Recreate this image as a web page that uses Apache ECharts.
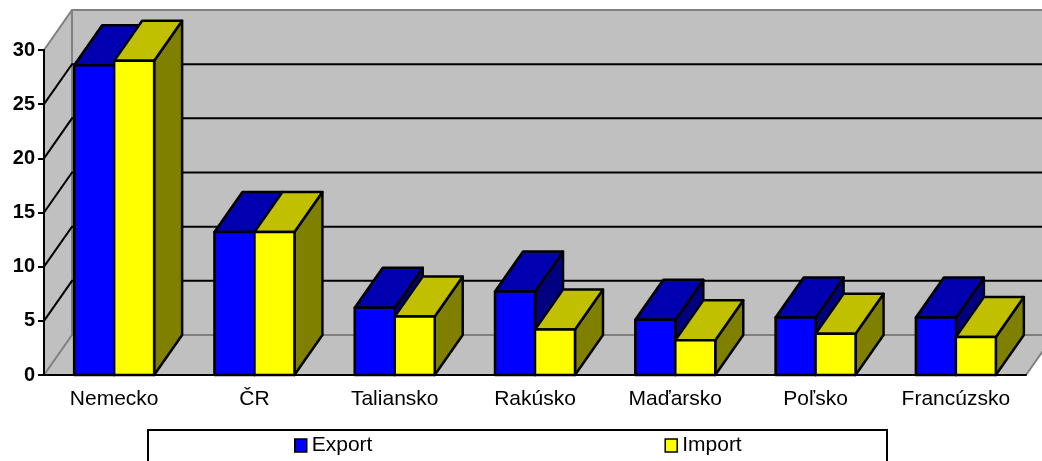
<!DOCTYPE html>
<html lang="sk">
<head>
    <meta charset="UTF-8">
    <title>Export a import</title>
    <style>
        body { margin: 0; background: #fff; }
        #a { width: 1042px; height: 461px; }
    </style>
</head>
<body>
<div id="a"></div>
<script src="https://cdn.jsdelivr.net/npm/echarts@6/dist/echarts.min.js"></script>
<script>
    // data
    var krajiny = ['Nemecko', 'ČR', 'Taliansko', 'Rakúsko', 'Maďarsko', 'Poľsko', 'Francúzsko'];
    var exportData = [28.6, 13.2, 6.2, 7.7, 5.1, 5.3, 5.3];
    var importData = [29.0, 13.2, 5.4, 4.2, 3.2, 3.8, 3.5];
    var yTicks = [0, 5, 10, 15, 20, 25, 30];

    var DX = 28, DY = -40; // 3D depth offset
    var font = 'Arial, "Liberation Sans", sans-serif';
    var init1 = echarts.init(document.getElementById('a'));

    // gray walls, floor and the back gridlines
    function walls(params, api) {
        var cs = params.coordSys;
        var x0 = cs.x, x1 = cs.x + cs.width;
        var yB = api.coord([0, yTicks[0]])[1];
        var yT = api.coord([0, yTicks[yTicks.length - 1]])[1];
        var gray = {fill: '#c0c0c0'};
        var edge = {stroke: '#808080', lineWidth: 2, fill: null};
        var children = [
            {type: 'polygon', shape: {points: [[x0 + DX, yT + DY], [x1 + DX, yT + DY], [x1 + DX, yB + DY], [x0 + DX, yB + DY]]}, style: gray},
            {type: 'polygon', shape: {points: [[x0, yT], [x0 + DX, yT + DY], [x0 + DX, yB + DY], [x0, yB]]}, style: gray},
            {type: 'polygon', shape: {points: [[x0, yB], [x0 + DX, yB + DY], [x1 + DX, yB + DY], [x1, yB]]}, style: gray},
            {type: 'line', shape: {x1: x0 + DX, y1: yT + DY, x2: x0 + DX, y2: yB + DY}, style: edge},
            {type: 'line', shape: {x1: x1, y1: yB, x2: x1 + DX, y2: yB + DY}, style: edge}
        ];
        for (var i = 0; i < yTicks.length; i++) {
            var y = api.coord([0, yTicks[i]])[1];
            var isEdge = (i == 0 || i == yTicks.length - 1);
            children.push({
                type: 'polyline',
                shape: {points: [[x0, y], [x0 + DX, y + DY], [x1 + DX, y + DY]]},
                style: {stroke: isEdge ? '#808080' : '#000', lineWidth: 2, fill: null}
            });
        }
        return {type: 'group', children: children};
    }

    // one 3D bar: front, top and right side
    function bar(side, cFront, cTop, cSide) {
        return function (params, api) {
            var idx = api.value(0);
            var base = api.coord([idx, 0]);
            var head = api.coord([idx, api.value(1)]);
            var w = api.size([1, 0])[0] * 0.285;
            var xL = side < 0 ? base[0] - w : base[0];
            var xR = xL + w;
            var yT = head[1], yB = base[1];
            var line = {stroke: '#000', lineWidth: 2.5, lineJoin: 'round'};
            return {
                type: 'group',
                children: [
                    {type: 'polygon', shape: {points: [[xR, yT], [xR + DX, yT + DY], [xR + DX, yB + DY], [xR, yB]]},
                        style: Object.assign({fill: cSide}, line)},
                    {type: 'polygon', shape: {points: [[xL, yT], [xR, yT], [xR + DX, yT + DY], [xL + DX, yT + DY]]},
                        style: Object.assign({fill: cTop}, line)},
                    {type: 'rect', shape: {x: xL, y: yT, width: w, height: yB - yT},
                        style: Object.assign({fill: cFront}, line)}
                ]
            };
        };
    }

    function pairs(arr) {
        var out = [];
        for (var i = 0; i < arr.length; i++) {
            out[i] = [i, arr[i]];
        }
        return out;
    }

    option1 = {
        animation: false,
        backgroundColor: '#fff',
        grid: {left: 44, right: 16, top: 50, bottom: 86},
        legend: {
            left: 294,
            top: 435,
            padding: 0,
            itemGap: 292,
            itemWidth: 12,
            itemHeight: 13,
            itemTextGap: 4,
            icon: 'rect',
            selectedMode: false,
            textStyle: {fontFamily: font, fontSize: 21, color: '#000'},
            data: [
                {name: 'Export', itemStyle: {color: '#0000ff', borderColor: '#000', borderWidth: 1.5}},
                {name: 'Import', itemStyle: {color: '#ffff00', borderColor: '#000', borderWidth: 1.5}}
            ]
        },
        graphic: [
            {type: 'rect', shape: {x: 148, y: 430, width: 739, height: 60},
                style: {fill: null, stroke: '#000', lineWidth: 2}}
        ],
        xAxis: {
            type: 'category',
            data: krajiny,
            z: 5,
            axisLine: {lineStyle: {color: '#000', width: 2}},
            axisTick: {length: 7, lineStyle: {color: '#000', width: 2}},
            axisLabel: {fontFamily: font, fontSize: 21, color: '#000', margin: 14, interval: 0}
        },
        yAxis: {
            type: 'value',
            min: 0,
            max: 30,
            interval: 5,
            z: 5,
            axisLine: {show: true, lineStyle: {color: '#000', width: 2}},
            axisTick: {show: true, length: 6, lineStyle: {color: '#000', width: 2}},
            axisLabel: {fontFamily: font, fontSize: 20, fontWeight: 'bold', color: '#000', margin: 9},
            splitLine: {show: false}
        },
        series: [
            {
                name: 'walls',
                type: 'custom',
                silent: true,
                z: 1,
                renderItem: walls,
                data: [[0, 0]]
            },
            {
                name: 'Export',
                type: 'custom',
                z: 2,
                itemStyle: {color: '#0000ff'},
                renderItem: bar(-1, '#0000ff', '#0000b0', '#000080'),
                encode: {x: 0, y: 1},
                data: pairs(exportData)
            },
            {
                name: 'Import',
                type: 'custom',
                z: 2,
                itemStyle: {color: '#ffff00'},
                renderItem: bar(1, '#ffff00', '#c0c000', '#808000'),
                encode: {x: 0, y: 1},
                data: pairs(importData)
            }
        ]
    };
    init1.setOption(option1);
</script>
</body>
</html>
